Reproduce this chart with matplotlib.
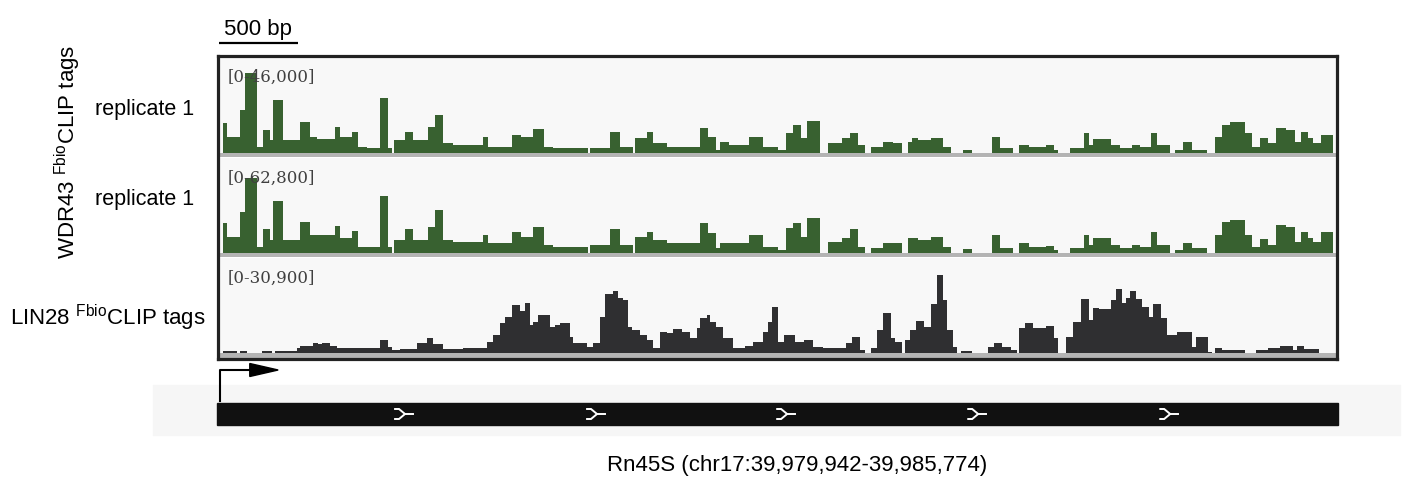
import matplotlib
matplotlib.use("Agg")
import matplotlib.pyplot as plt
from matplotlib.patches import Rectangle, Polygon
from matplotlib.transforms import blended_transform_factory

plt.rcParams['font.family'] = ['Liberation Sans', 'DejaVu Sans']
plt.rcParams['mathtext.fontset'] = 'custom'
plt.rcParams['mathtext.rm'] = 'Liberation Sans'

# ---- data (bp from the left edge of the view, tag counts) ----
view_end = 7080
scale_bp = 500
gene_label = "Rn45S (chr17:39,979,942-39,985,774)"

wdr43_starts = [25, 50, 135, 165, 240, 280, 325, 340, 405, 515,
                575, 620, 735, 765, 845, 880, 940, 1020, 1070, 1095,
                1110, 1180, 1230, 1325, 1370, 1420, 1485, 1675, 1705, 1860,
                1915, 1990, 2060, 2120, 2340, 2350, 2480, 2540, 2625, 2635,
                2715, 2750, 2840, 3050, 3100, 3150, 3175, 3235, 3360, 3445,
                3545, 3595, 3640, 3690, 3730, 3810, 3860, 3950, 4000, 4050,
                4095, 4135, 4210, 4275, 4330, 4370, 4395, 4430, 4510, 4590,
                4640, 4715, 4770, 4900, 4950, 5035, 5070, 5135, 5245, 5295,
                5320, 5395, 5480, 5515, 5540, 5655, 5710, 5790, 5840, 5910,
                5945, 6025, 6060, 6110, 6170, 6260, 6310, 6355, 6405, 6505,
                6545, 6600, 6650, 6700, 6765, 6820, 6860, 6900, 6935, 6985]
wdr43_end = 7060

rep1_tags = [14400, 7700, 20600, 38300, 2900, 11000, 6200, 25400, 6200, 14800,
             7700, 6700, 12500, 7700, 10100, 2900, 2400, 26300, 2400, 0,
             6200, 10100, 6200, 12500, 18200, 4800, 3800, 7700, 2900, 8600,
             7700, 11500, 2900, 2400, 0, 2400, 10100, 2900, 0, 7200,
             10100, 4800, 2900, 12000, 7700, 1400, 5300, 3800, 7700, 2900,
             1400, 9600, 13400, 7200, 15300, 0, 4800, 7200, 9600, 3800,
             0, 2900, 5300, 4800, 0, 5300, 7200, 6200, 7200, 2900,
             0, 1400, 0, 7700, 2400, 0, 3800, 2900, 3800, 1400,
             0, 2400, 9600, 3800, 6700, 3800, 2400, 3800, 2900, 9600,
             3800, 0, 1400, 5300, 1400, 0, 7700, 13400, 14800, 9600,
             2900, 7200, 4800, 12000, 11000, 5300, 10100, 7200, 4800, 8600]

rep2_tags = [19600, 10500, 26800, 49700, 3900, 15700, 8500, 34700, 8500, 20300,
             11800, 11800, 17700, 9800, 14400, 3900, 3900, 37900, 3900, 0,
             8500, 15700, 8500, 17000, 28100, 8500, 7200, 11800, 6500, 13700,
             10500, 17000, 5200, 3900, 0, 5200, 15700, 5200, 0, 10500,
             13700, 8500, 6500, 19600, 13100, 3300, 6500, 6500, 11800, 3900,
             2000, 16400, 19600, 10500, 22900, 0, 7200, 9800, 15700, 3900,
             0, 3300, 6500, 6500, 0, 9800, 9800, 8500, 10500, 3900,
             0, 2600, 0, 11800, 3300, 0, 6500, 3900, 4600, 2000,
             0, 3300, 11800, 5200, 9800, 5200, 3300, 5200, 3900, 13700,
             5200, 0, 2000, 6500, 3300, 0, 11800, 20300, 21600, 11800,
             3900, 9200, 5200, 18300, 17000, 7200, 13700, 9800, 7200, 13700]

lin28_starts = [25, 115, 135, 180, 275, 335, 355, 495, 515, 595,
                630, 655, 705, 750, 1020, 1070, 1095, 1150, 1255, 1320,
                1355, 1420, 1545, 1700, 1735, 1780, 1815, 1860, 1910, 1940,
                1970, 1990, 2020, 2100, 2130, 2160, 2225, 2245, 2335, 2370,
                2415, 2445, 2500, 2530, 2560, 2595, 2620, 2670, 2715, 2750,
                2795, 2840, 2880, 2935, 2985, 3030, 3050, 3090, 3115, 3150,
                3195, 3260, 3335, 3385, 3445, 3480, 3505, 3545, 3580, 3650,
                3705, 3765, 3830, 3975, 4015, 4065, 4095, 4135, 4170, 4210,
                4260, 4285, 4330, 4350, 4380, 4420, 4470, 4510, 4550, 4590,
                4615, 4655, 4680, 4705, 4775, 4875, 4915, 4965, 5020, 5060,
                5070, 5110, 5160, 5245, 5295, 5320, 5370, 5410, 5465, 5515,
                5540, 5580, 5655, 5685, 5725, 5750, 5775, 5815, 5850, 5895,
                5920, 5970, 6010, 6075, 6170, 6195, 6270, 6295, 6310, 6355,
                6505, 6575, 6650, 6725, 6810, 6835, 6875]
lin28_end = 6975

lin28_tags = [600, 0, 600, 0, 600, 0, 600, 1600, 2300, 3200,
              2900, 3200, 2300, 1600, 4200, 1900, 1000, 1300, 3200, 4800,
              2900, 1300, 1600, 3500, 5800, 9700, 11600, 15500, 13800, 16400,
              9000, 10000, 12200, 8400, 9000, 9700, 5200, 3200, 1900, 3200,
              11600, 19300, 20300, 18000, 17100, 8400, 7400, 5800, 4200, 1600,
              6800, 6400, 7700, 6800, 4800, 8100, 11300, 12200, 10000, 8400,
              4800, 1600, 2300, 3500, 6800, 10000, 14800, 3500, 5800, 3500,
              4200, 1900, 1600, 3200, 5200, 1000, 0, 1600, 7400, 12900,
              4800, 3500, 0, 4200, 7400, 10300, 8400, 16100, 25400, 17100,
              7400, 1900, 0, 600, 0, 1900, 3200, 1900, 1000, 0,
              8100, 9700, 8100, 8700, 4800, 0, 5200, 10000, 17700, 10600,
              14500, 14200, 17100, 20900, 16400, 18000, 20300, 17700, 14800, 11600,
              15800, 11300, 5800, 6800, 1900, 5200, 300, 0, 1600, 1000,
              0, 1000, 1600, 2300, 1000, 2300, 1300]

track_max = [46000, 62800, 30900]
track_range_labels = ["[0-46,000]", "[0-62,800]", "[0-30,900]"]
strand_arrow_bp = [1116, 2333, 3538, 4749, 5966]

green = "#386130"
dark = "#2f2f31"

# ---- layout helpers (figure pixels) ----
W, H = 1415, 495
fig = plt.figure(figsize=(W / 100, H / 100), dpi=100)


def rect(x0, y0, x1, y1):
    return [x0 / W, 1 - y1 / H, (x1 - x0) / W, (y1 - y0) / H]


# track rows: top, bottom, baseline (pixels)
rows = [(57, 157, 153), (158, 257, 253), (258, 358, 353)]
series = [(wdr43_starts + [wdr43_end], rep1_tags, green),
          (wdr43_starts + [wdr43_end], rep2_tags, green),
          (lin28_starts + [lin28_end], lin28_tags, dark)]

axes = []
for (top, bot, base), (edges, vals, col), ymax, lab in zip(rows, series, track_max, track_range_labels):
    ax = fig.add_axes(rect(219, top, 1336, bot))
    ymin = -ymax * (bot - base) / (base - top)
    ax.set_xlim(0, view_end)
    ax.set_ylim(ymin, ymax)
    ax.set_facecolor("#f8f8f8")
    ax.axhspan(ymin, 0, color="#b4b4b4", lw=0)
    ax.stairs(vals, edges, fill=True, color=col, baseline=0)
    ax.text(0.008, 1 - 20 / (bot - top), lab, transform=ax.transAxes,
            va="center", ha="left", family=["DejaVu Serif"],
            fontsize=12, color="#404040", zorder=5)
    ax.set_xticks([])
    ax.set_yticks([])
    for s in ax.spines.values():
        s.set_visible(False)
    axes.append(ax)

# outer frame
frame = fig.add_axes(rect(217.5, 56, 1337, 358.5))
frame.patch.set_alpha(0)
frame.set_xticks([])
frame.set_yticks([])
for s in frame.spines.values():
    s.set_linewidth(2.3)
    s.set_color("#222222")

# scale bar
tr = blended_transform_factory(axes[0].transData, fig.transFigure)
axes[0].plot([0, scale_bp], [1 - 43 / H, 1 - 43 / H], color="black", lw=1.6,
             transform=tr, clip_on=False, solid_capstyle="butt")
axes[0].text(scale_bp / 2, 1 - 30 / H, f"{scale_bp} bp", transform=tr,
             ha="center", va="center", fontsize=16, clip_on=False)

# left labels
fig.text(194 / W, 1 - 110 / H, "replicate 1", ha="right", va="center", fontsize=15.5)
fig.text(194 / W, 1 - 200 / H, "replicate 1", ha="right", va="center", fontsize=15.5)
fig.text(206 / W, 1 - 325 / H, r"LIN28 $^{\mathrm{Fbio}}$CLIP tags",
         ha="right", va="baseline", fontsize=16)
fig.text(68 / W, 1 - 152 / H, r"WDR43 $^{\mathrm{Fbio}}$CLIP tags",
         ha="center", va="center", rotation=90, fontsize=16)

# gene track
fig.patches.append(Rectangle((153 / W, 1 - 435 / H), (1400 - 153) / W, 50 / H,
                             transform=fig.transFigure, color="#f6f6f6", zorder=-1))
gax = fig.add_axes(rect(219, 360, 1336, 440))
gax.set_xlim(0, view_end)
gax.set_ylim(440, 360)
gax.axis("off")
gax.add_patch(Rectangle((-13, 403), view_end + 26, 22, color="#111111", clip_on=False))
for xb in strand_arrow_bp:
    gax.plot([xb, xb + 25, xb + 63, xb + 25, xb], [409, 409, 414, 419, 419],
             color="white", lw=1.4, solid_joinstyle="miter")
    gax.plot([xb + 63, xb + 115], [414, 414], color="white", lw=1.4)

# promoter arrow
gax.plot([6, 6, 200], [401, 370, 370], color="black", lw=1.5, clip_on=False)
gax.add_patch(Polygon([(195, 363.5), (375, 370), (195, 376.5)], closed=True,
                      color="black", clip_on=False))

fig.text(797 / W, 1 - 465 / H, gene_label, ha="center", va="center", fontsize=16)

fig.savefig("out.png", dpi=100)
